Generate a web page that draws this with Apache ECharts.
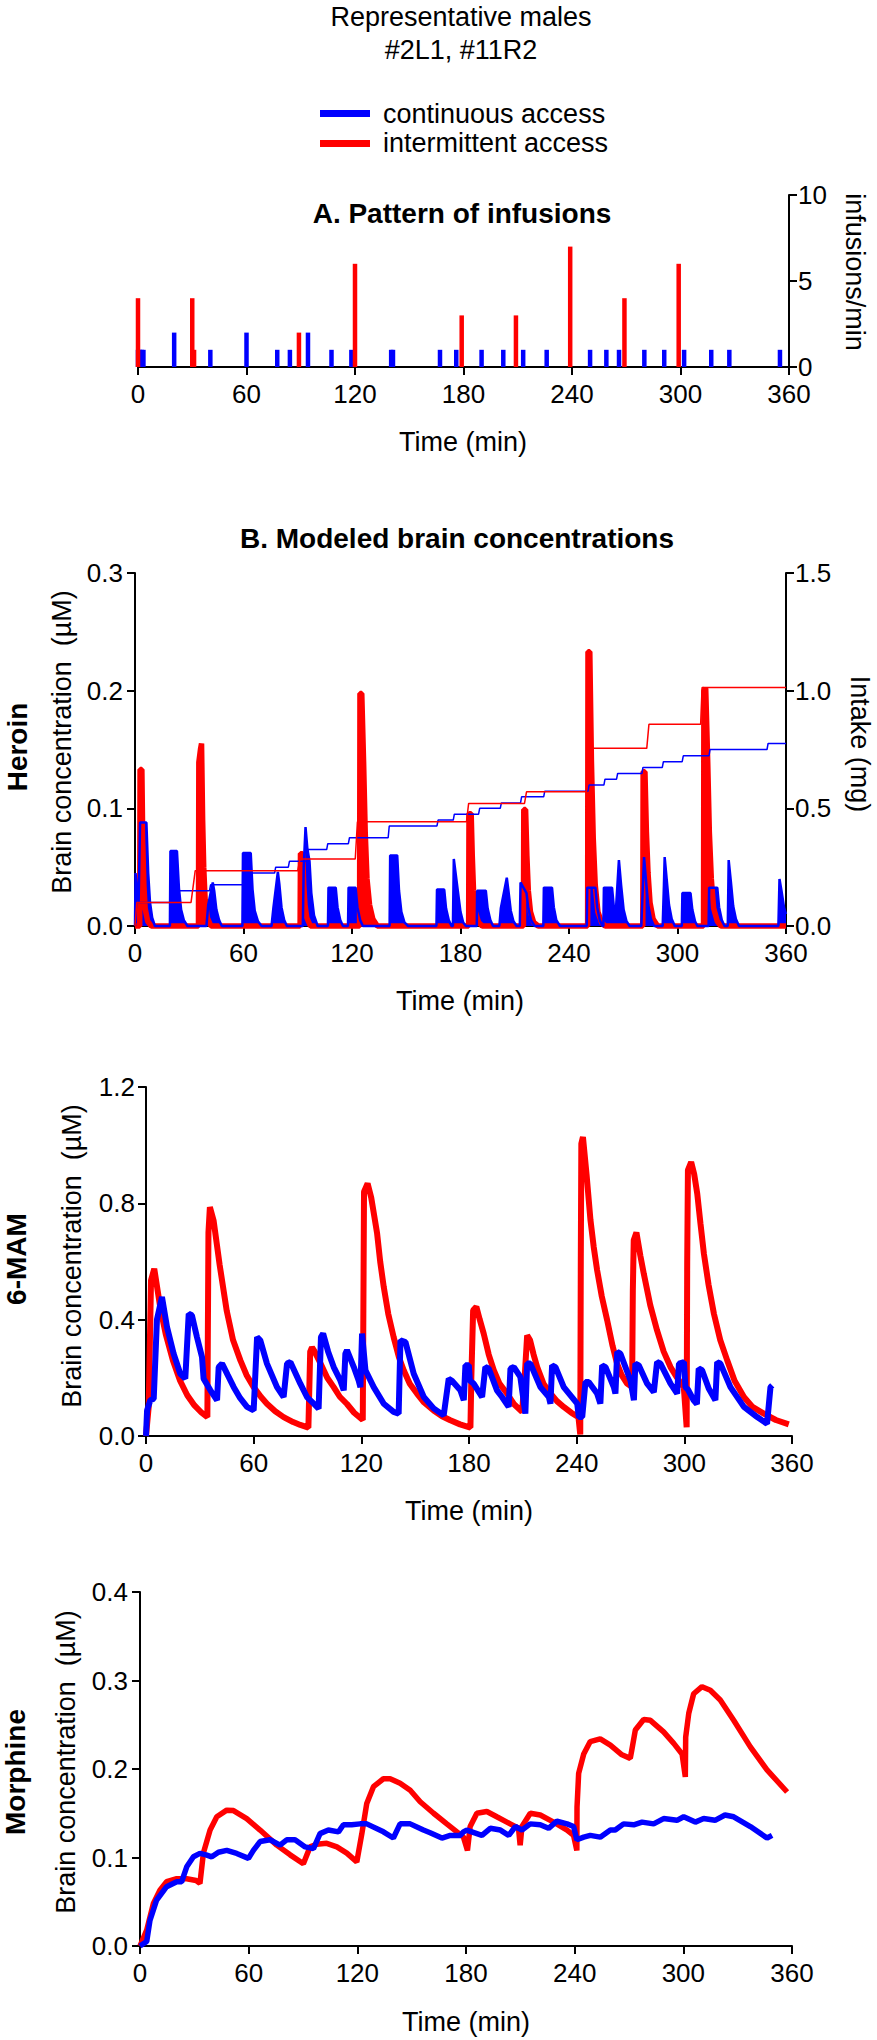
<!DOCTYPE html>
<html><head><meta charset="utf-8">
<script src="https://cdn.jsdelivr.net/npm/echarts/dist/echarts.min.js"></script>
<style>html,body{margin:0;padding:0;background:#fff}#c{width:877px;height:2040px}</style>
</head><body><div id="c"></div>
<script>
// ---------- axis ticks ----------
const TIME_TICKS = [0, 60, 120, 180, 240, 300, 360];
const INF_TICKS = [0, 5, 10];
const HEROIN_TICKS = [0, 0.1, 0.2, 0.3];
const INTAKE_TICKS = [0, 0.5, 1.0, 1.5];
const MAM_TICKS = [0, 0.4, 0.8, 1.2];
const MOR_TICKS = [0, 0.1, 0.2, 0.3, 0.4];

// ---------- A. Pattern of infusions (min, infusions/min) ----------
const contInfTime  = [0,1,2,3,20,40,60,77,84,94,107,118,140,141,167,176,190,202,213,226,250,259,266,280,291,302,317,327,355];
const contInfCount = [1,1,1,1,2,1,2,1,1,2,1,1,1,1,1,1,1,1,1,1,1,1,1,1,1,1,1,1,1];
const intInfTime   = [0,30,31,89,120,179,209,239,269,299];
const intInfCount  = [4,4,1,2,6,3,3,7,4,6];

// ---------- B. Heroin brain concentration [min, µM] ----------
const heroinInt = [[0,0],[2.6,0],[2.8,0.133],[3.8,0.133],[4.3,0.07],[4.9,0.035],[5.6,0.015],[7,0.004],[9,0],
 [35.1,0],[35.3,0.139],[36.2,0.15],[36.8,0.155],[37.4,0.09],[38,0.05],[38.8,0.022],[40,0.007],[42,0],
 [91.3,0],[91.5,0.0615],[92.7,0.0615],[93.3,0.035],[94,0.018],[95,0.007],[97,0],
 [124.2,0],[124.4,0.1975],[125.4,0.1975],[126.4,0.14],[127.3,0.08],[128.3,0.04],[129.7,0.018],[131.5,0.006],[134,0],
 [184.5,0],[184.7,0.0955],[185.9,0.0955],[186.5,0.06],[187.2,0.03],[188.2,0.012],[190,0.003],[192,0],
 [214.8,0],[215,0.099],[216,0.099],[216.7,0.06],[217.5,0.03],[218.7,0.012],[220.5,0.003],[223,0],
 [250.3,0],[250.5,0.233],[251.5,0.233],[252.4,0.14],[253.4,0.075],[254.5,0.035],[256,0.012],[258,0.003],[260,0],
 [280.8,0],[281,0.131],[282,0.131],[282.8,0.08],[283.7,0.045],[284.8,0.02],[286.5,0.006],[289,0],
 [314.4,0],[314.6,0.2],[315.6,0.202],[316.7,0.14],[317.6,0.08],[318.7,0.04],[320,0.015],[322,0.004],[324,0],[360,0]];
const heroinCont = [[0,0],[0.3,0.045],[1.2,0.03],[2,0.02],[2.8,0.088],[6.3,0.088],[7.3,0.045],[8.3,0.02],[9.5,0.007],[11,0],
 [19.3,0],[19.6,0.0637],[23.2,0.0637],[24.3,0.032],[25.5,0.014],[27,0.005],[29,0],
 [39.5,0],[40.5,0.018],[43,0.037],[43.8,0.03],[45,0.014],[46.5,0.005],[48,0],
 [59.4,0],[59.7,0.062],[64,0.062],[65,0.031],[66.2,0.013],[68,0.004],[70,0],
 [75.5,0],[76.5,0.015],[79,0.046],[79.8,0.036],[81,0.016],[82.5,0.005],[84,0],
 [92.8,0],[93.3,0.05],[94.3,0.084],[95.3,0.066],[96.5,0.055],[97.5,0.028],[99,0.009],[101,0],
 [106.7,0],[107,0.0326],[111,0.0326],[112,0.016],[113.5,0.005],[115,0],
 [117.8,0],[118.1,0.0326],[122,0.0326],[123,0.016],[124.5,0.005],[126,0],
 [140.8,0],[141.1,0.06],[145,0.06],[146,0.03],[147.3,0.012],[149,0.003],[151,0],
 [166.7,0],[167,0.031],[171,0.031],[172,0.015],[173.5,0.005],[175,0],
 [175.8,0],[176.3,0.057],[178.5,0.03],[180,0.012],[181.5,0.003],[183,0],
 [189,0],[189.2,0.03],[194,0.03],[195,0.015],[196.5,0.005],[198,0],
 [201.5,0],[202.3,0.015],[205.6,0.041],[206.5,0.03],[207.8,0.013],[209.3,0.004],[211,0],
 [212.8,0],[213.2,0.037],[216.5,0.028],[217.5,0.015],[219,0.005],[221,0],
 [225.8,0],[226.1,0.0326],[230.6,0.0326],[231.6,0.016],[233,0.005],[235,0],
 [249.8,0],[250.1,0.0326],[254.6,0.0326],[255.6,0.016],[257,0.005],[258.5,0],
 [259,0],[259.3,0.0326],[263.8,0.0326],[264.8,0.016],[265.8,0.01],[267.6,0.056],[268.8,0.035],[270.2,0.014],[271.8,0.004],[273.5,0],
 [280,0],[280.5,0.02],[281.5,0.0586],[282.5,0.04],[283.8,0.018],[285.3,0.006],[287,0],
 [291.8,0],[292.5,0.035],[292.9,0.0586],[294,0.04],[295.3,0.018],[296.8,0.006],[298.5,0],
 [302.4,0],[302.7,0.028],[307.2,0.028],[308.2,0.014],[309.7,0.004],[311,0],
 [317.2,0],[317.5,0.0326],[322,0.0326],[323,0.016],[324.5,0.005],[326,0],
 [327.8,0],[328.3,0.056],[329.5,0.038],[330.8,0.017],[332.3,0.006],[334,0],
 [355.8,0],[356.4,0.04],[357.5,0.03],[359,0.015],[360,0.01]];
// cumulative intake [min, mg]
const intakeInt = [[0,0],[1,0.1],[31,0.1],[33.3,0.235],[90,0.235],[91.2,0.285],[121.8,0.285],[123,0.443],[183.3,0.443],[184.5,0.521],[215.4,0.521],[216.5,0.57],[249.7,0.57],[250.6,0.755],[283,0.755],[284.2,0.857],[312.8,0.857],[313.6,1.013],[360,1.013]];
const intakeCont = [[0,0],[1,0.1],[20.3,0.1],[21,0.15],[41.2,0.15],[41.8,0.175],[60,0.175],[60.6,0.225],[77.2,0.225],[77.8,0.25],[84.8,0.25],[85.4,0.275],[94.8,0.275],[95.4,0.325],[106,0.325],[106.6,0.35],[118,0.35],[118.6,0.375],[140,0.375],[140.6,0.425],[167,0.425],[167.6,0.45],[176,0.45],[176.6,0.475],[190,0.475],[190.6,0.5],[202,0.5],[202.6,0.523],[213.2,0.523],[213.8,0.549],[226,0.549],[226.6,0.573],[250.5,0.573],[251.1,0.599],[259.3,0.599],[259.9,0.624],[266.3,0.624],[266.9,0.648],[280.3,0.648],[280.9,0.674],[291.6,0.674],[292.2,0.698],[302.6,0.698],[303.2,0.723],[317.4,0.723],[318,0.75],[349.5,0.75],[350.1,0.776],[360,0.776]];

// ---------- 6-MAM [min, µM] ----------
const mamInt = [[0,0],[1.5,0.1],[2.8,0.535],[4.6,0.575],[8,0.44],[11,0.35],[15,0.26],[19,0.19],[23,0.14],[27,0.105],[31,0.08],[34.2,0.065],[34.8,0.7],[35.6,0.787],[37.7,0.74],[41,0.59],[45,0.43],[48.5,0.33],[52.6,0.26],[56,0.21],[60,0.168],[64,0.135],[67.4,0.111],[72,0.085],[76.7,0.065],[82,0.048],[86,0.038],[90.5,0.029],[91.5,0.29],[92.5,0.305],[94,0.29],[97.2,0.25],[101,0.2],[104.6,0.168],[108,0.135],[112,0.11],[116,0.08],[120.8,0.055],[121.5,0.84],[123.5,0.868],[125.5,0.82],[128.8,0.696],[130.5,0.6],[132.5,0.512],[135,0.42],[138,0.34],[141,0.27],[143.6,0.226],[147,0.18],[151,0.146],[155,0.115],[160.3,0.088],[165,0.068],[169.6,0.054],[175,0.04],[180.8,0.029],[181.3,0.2],[182.3,0.432],[184.1,0.444],[186,0.4],[188.2,0.352],[191,0.28],[193.8,0.226],[197,0.18],[201.2,0.146],[205,0.11],[209.6,0.083],[211,0.2],[212.4,0.346],[214,0.33],[216,0.28],[218,0.237],[221.5,0.18],[225.4,0.146],[229,0.12],[232.8,0.1],[237,0.08],[241,0.065],[242,0.005],[242.3,0.6],[242.6,1.005],[243.5,1.028],[245.5,0.9],[247.7,0.742],[249.5,0.65],[251.4,0.57],[254,0.48],[257,0.398],[260,0.31],[262.5,0.249],[265,0.21],[268.1,0.18],[270.9,0.168],[271.3,0.5],[271.8,0.673],[273.3,0.7],[275.5,0.62],[277.4,0.558],[281,0.45],[284.8,0.363],[288.5,0.29],[292.3,0.237],[296,0.2],[299.7,0.168],[301.3,0.03],[301.6,0.6],[302,0.914],[303.8,0.942],[305.5,0.9],[307.2,0.833],[309,0.73],[310.9,0.627],[313.5,0.52],[316.5,0.42],[320,0.33],[323.9,0.26],[328,0.19],[333.2,0.134],[338,0.1],[344.3,0.077],[351,0.055],[358.2,0.04]];
const mamCont = [[0,0],[0.6,0.088],[2.4,0.123],[4.3,0.128],[6.1,0.4],[8.9,0.478],[11.7,0.375],[15.4,0.283],[19.1,0.214],[21.9,0.197],[23.8,0.42],[25.6,0.415],[28.4,0.34],[31.2,0.272],[32.1,0.197],[35.9,0.157],[39.6,0.123],[40.5,0.237],[42.4,0.249],[45.5,0.21],[48.9,0.168],[52.5,0.13],[56.3,0.1],[60,0.088],[61.9,0.34],[63.7,0.329],[67.4,0.249],[73,0.168],[76.7,0.134],[78.6,0.249],[80.5,0.254],[86,0.18],[89.7,0.134],[93.5,0.111],[96.2,0.094],[97.5,0.34],[98.7,0.352],[101.5,0.29],[104.6,0.237],[108.3,0.191],[110.2,0.157],[111.1,0.283],[112,0.295],[115.8,0.237],[118.5,0.191],[119.5,0.168],[120.4,0.352],[122.3,0.226],[126.9,0.168],[132.5,0.111],[138,0.083],[140.8,0.077],[141.8,0.329],[144.6,0.323],[149.2,0.214],[154.8,0.134],[160.3,0.095],[165.9,0.071],[168.7,0.197],[170.5,0.19],[175.2,0.157],[177.1,0.123],[178,0.243],[179.9,0.243],[180.5,0.19],[182.6,0.18],[187.3,0.134],[189.1,0.237],[191,0.232],[195.6,0.157],[198.4,0.134],[202.1,0.1],[203.1,0.232],[205,0.237],[208.6,0.203],[211.4,0.077],[212.4,0.249],[214.2,0.249],[219.8,0.168],[224.5,0.134],[225.4,0.111],[226.3,0.243],[228.2,0.237],[232.8,0.168],[240.3,0.111],[241.2,0.065],[243.1,0.065],[244.9,0.186],[246.7,0.186],[251.4,0.146],[253.2,0.111],[254.2,0.243],[256.1,0.237],[260.7,0.168],[261.6,0.146],[262.6,0.289],[264.4,0.283],[270,0.191],[271.9,0.123],[272.7,0.249],[274.6,0.243],[279.3,0.18],[283,0.151],[284.8,0.254],[286.7,0.249],[292.3,0.18],[296,0.146],[297,0.249],[299.8,0.254],[300.6,0.168],[302,0.16],[305.2,0.123],[307,0.11],[308,0.232],[309.9,0.226],[313.6,0.163],[317.3,0.123],[318.3,0.254],[320.1,0.249],[325.7,0.168],[333.2,0.1],[340.6,0.065],[346.1,0.042],[348,0.168],[349,0.174]];

// ---------- Morphine [min, µM] ----------
const morInt = [[0,0],[3.7,0.018],[7.4,0.048],[11,0.063],[14.7,0.0726],[20.3,0.076],[25.8,0.076],[31,0.074],[33.1,0.0707],[35,0.105],[38.7,0.131],[42.4,0.146],[47.9,0.1535],[51.6,0.153],[58.9,0.144],[66.3,0.131],[75.5,0.114],[82.9,0.103],[90.2,0.093],[93.9,0.112],[97.6,0.115],[103.1,0.116],[108.7,0.112],[114.2,0.105],[119.7,0.095],[122.5,0.127],[125.2,0.161],[128.9,0.18],[134.4,0.189],[138.1,0.189],[143.6,0.184],[149.2,0.176],[154.7,0.163],[162.1,0.15],[169.4,0.138],[178.6,0.123],[180.8,0.108],[182.3,0.135],[186,0.15],[191.5,0.152],[197,0.146],[204.4,0.138],[209,0.133],[209.9,0.114],[210.9,0.135],[215.5,0.15],[221,0.148],[228.4,0.14],[235.8,0.131],[239.4,0.125],[241.2,0.108],[241.3,0.157],[242.2,0.195],[245,0.217],[248.6,0.231],[254.1,0.234],[259.7,0.227],[266.1,0.216],[270.7,0.212],[271.5,0.221],[273.5,0.244],[278.1,0.256],[281.8,0.255],[289.1,0.242],[294.7,0.229],[299.3,0.217],[301.1,0.191],[301.3,0.236],[303,0.263],[305.7,0.285],[310.3,0.293],[314.9,0.289],[320.4,0.278],[327.8,0.255],[337,0.225],[346.2,0.199],[357.3,0.174]];
const morCont = [[0,0],[3.7,0.005],[5.5,0.029],[9.2,0.052],[14.7,0.067],[20.3,0.0726],[23,0.0726],[25.8,0.0895],[29.5,0.1008],[33.1,0.1046],[36.5,0.103],[39.6,0.1008],[43.3,0.106],[47.9,0.108],[53.4,0.1046],[59.9,0.099],[62.6,0.108],[66.3,0.118],[71.8,0.12],[77.3,0.114],[81,0.12],[85.6,0.12],[91.2,0.112],[95.8,0.11],[99.4,0.127],[104,0.131],[109.6,0.129],[112.3,0.137],[116.9,0.137],[121.5,0.138],[125.2,0.138],[134.4,0.129],[139.9,0.122],[143.6,0.138],[149.2,0.138],[156.5,0.131],[160.2,0.128],[166.7,0.122],[171.3,0.125],[176.8,0.125],[178.6,0.129],[180.4,0.131],[188.8,0.125],[193.4,0.133],[199,0.131],[203.6,0.125],[207.3,0.135],[210.9,0.131],[215.5,0.138],[221,0.137],[225.6,0.133],[230.2,0.141],[235.8,0.138],[239.4,0.135],[241.2,0.12],[245,0.123],[248.6,0.125],[254.1,0.123],[259.7,0.131],[262.4,0.131],[267,0.138],[272.6,0.137],[277.2,0.14],[283.6,0.138],[289.1,0.144],[296.5,0.142],[300.2,0.146],[306.6,0.14],[311.2,0.144],[317.5,0.142],[323,0.148],[327.8,0.146],[337,0.135],[346.2,0.122],[349,0.125]];

// ---------- chart ----------
const FONT = '"Liberation Sans", Arial, Helvetica, sans-serif';
const RED = '#ff0000', BLUE = '#0000ff';
const zip = (a, b) => a.map((v, i) => [v, b[i]]);

function xAx(gi) {
  return { type: 'value', gridIndex: gi, min: TIME_TICKS[0], max: TIME_TICKS[TIME_TICKS.length - 1],
    interval: TIME_TICKS[1] - TIME_TICKS[0],
    axisLine: { show: true, onZero: false, lineStyle: { color: '#000', width: 2 } },
    axisTick: { show: true, length: 8, lineStyle: { color: '#000', width: 2 } },
    axisLabel: { color: '#000', fontSize: 26, fontFamily: FONT, margin: 14 },
    splitLine: { show: false } };
}
function yAx(gi, ticks, pos, dec, margin) {
  return { type: 'value', gridIndex: gi, position: pos, min: ticks[0], max: ticks[ticks.length - 1],
    interval: ticks[1] - ticks[0],
    axisLine: { show: true, onZero: false, lineStyle: { color: '#000', width: 2 } },
    axisTick: { show: true, length: 8, lineStyle: { color: '#000', width: 2 } },
    axisLabel: { color: '#000', fontSize: 26, fontFamily: FONT, margin: margin,
      formatter: v => Number(v).toFixed(dec) },
    splitLine: { show: false } };
}
function txt(text, x, y, size, opts) {
  opts = opts || {};
  return { type: 'text', x: x, y: y, rotation: opts.rot || 0, z: 100,
    style: { text: text, fontSize: size, fontFamily: FONT, fontWeight: opts.bold ? 'bold' : 'normal',
      fill: '#000', align: opts.align || 'center', verticalAlign: 'middle' } };
}
const R90 = Math.PI / 2;

const chart = echarts.init(document.getElementById('c'), null, { renderer: 'svg', width: 877, height: 2040 });
chart.setOption({
  backgroundColor: '#ffffff',
  animation: false,
  grid: [
    { left: 138, top: 195, width: 651, height: 172 },
    { left: 135, top: 573, width: 651, height: 353 },
    { left: 146, top: 1087, width: 646, height: 349 },
    { left: 140, top: 1592, width: 652, height: 354 }
  ],
  xAxis: [xAx(0), xAx(1), xAx(2), xAx(3)],
  yAxis: [
    yAx(0, INF_TICKS, 'right', 0, 9),
    yAx(1, HEROIN_TICKS, 'left', 1, 12),
    yAx(1, INTAKE_TICKS, 'right', 1, 9),
    yAx(2, MAM_TICKS, 'left', 1, 11),
    yAx(3, MOR_TICKS, 'left', 1, 12)
  ],
  series: [
    { type: 'bar', name: 'continuous access', xAxisIndex: 0, yAxisIndex: 0, data: zip(contInfTime, contInfCount),
      barWidth: 4.5, barGap: '-100%', clip: false, itemStyle: { color: BLUE } },
    { type: 'bar', name: 'intermittent access', xAxisIndex: 0, yAxisIndex: 0, data: zip(intInfTime, intInfCount),
      barWidth: 4.5, barGap: '-100%', clip: false, itemStyle: { color: RED } },
    { type: 'line', xAxisIndex: 1, yAxisIndex: 1, data: heroinInt, symbol: 'none', clip: false,
      lineStyle: { color: RED, width: 5.5 }, areaStyle: { color: RED, opacity: 1 } },
    { type: 'line', xAxisIndex: 1, yAxisIndex: 1, data: heroinCont, symbol: 'none', clip: false,
      lineStyle: { color: BLUE, width: 2.5 }, areaStyle: { color: BLUE, opacity: 1 } },
    { type: 'line', xAxisIndex: 1, yAxisIndex: 2, data: intakeCont, symbol: 'none', clip: false,
      lineStyle: { color: BLUE, width: 1.5 } },
    { type: 'line', xAxisIndex: 1, yAxisIndex: 2, data: intakeInt, symbol: 'none', clip: false,
      lineStyle: { color: RED, width: 1.5 } },
    { type: 'line', xAxisIndex: 2, yAxisIndex: 3, data: mamInt, symbol: 'none', clip: false,
      lineStyle: { color: RED, width: 6 } },
    { type: 'line', xAxisIndex: 2, yAxisIndex: 3, data: mamCont, symbol: 'none', clip: false,
      lineStyle: { color: BLUE, width: 6 } },
    { type: 'line', xAxisIndex: 3, yAxisIndex: 4, data: morInt, symbol: 'none', clip: false,
      lineStyle: { color: RED, width: 5.5 } },
    { type: 'line', xAxisIndex: 3, yAxisIndex: 4, data: morCont, symbol: 'none', clip: false,
      lineStyle: { color: BLUE, width: 5.5 } }
  ],
  graphic: [
    txt('Representative males', 461, 17, 27),
    txt('#2L1, #11R2', 461, 50, 27),
    { type: 'rect', shape: { x: 320, y: 110, width: 50, height: 7 }, style: { fill: BLUE } },
    { type: 'rect', shape: { x: 320, y: 140, width: 50, height: 7 }, style: { fill: RED } },
    txt('continuous access', 383, 114, 27, { align: 'left' }),
    txt('intermittent access', 383, 143, 27, { align: 'left' }),
    txt('A. Pattern of infusions', 462, 213, 28, { bold: true }),
    txt('Time (min)', 463, 442, 27),
    txt('infusions/min', 855, 272, 27, { rot: -R90 }),
    txt('B. Modeled brain concentrations', 457, 538, 28, { bold: true }),
    txt('Heroin', 17, 747, 28, { bold: true, rot: R90 }),
    txt('Brain concentration  (\u00b5M)', 62, 742, 27, { rot: R90 }),
    txt('Intake (mg)', 860, 744, 27, { rot: -R90 }),
    txt('Time (min)', 460, 1001, 27),
    txt('6-MAM', 16, 1259, 28, { bold: true, rot: R90 }),
    txt('Brain concentration  (\u00b5M)', 72, 1256, 27, { rot: R90 }),
    txt('Time (min)', 469, 1511, 27),
    txt('Morphine', 15, 1772, 28, { bold: true, rot: R90 }),
    txt('Brain concentration  (\u00b5M)', 66, 1762, 27, { rot: R90 }),
    txt('Time (min)', 466, 2022, 27)
  ]
});
</script></body></html>
